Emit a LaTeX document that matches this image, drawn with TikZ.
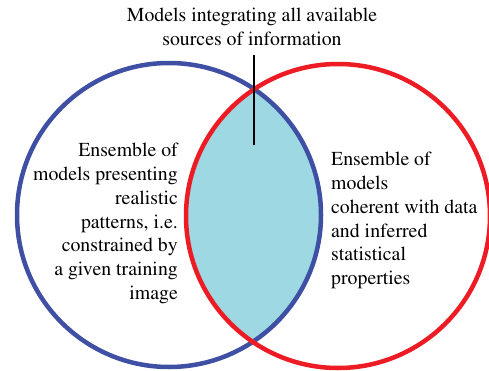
\documentclass[tikz,border=0pt]{standalone}
\usepackage[T1]{fontenc}
\usepackage{mathptmx}
\usepackage{xcolor}
\usetikzlibrary{positioning}
\definecolor{setblue}{RGB}{63,79,163}
\definecolor{setred}{RGB}{237,28,36}
\definecolor{lenscyan}{RGB}{158,216,226}

\begin{document}
\begin{tikzpicture}[x=1pt,y=-1pt,font=\fontsize{19.8}{23.8}\selectfont,
  ring/.style={line width=4.5pt},
  lbl/.style={inner sep=0pt}]
\useasboundingbox (0,0) rectangle (489,371);
\coordinate (cA) at (169,215);
\coordinate (cB) at (338,216);
\begin{scope}
  \clip (cA) circle (152);
  \fill[lenscyan] (cB) circle (152);
\end{scope}
\draw[ring,setblue] (cA) circle (152);
\draw[ring,setred] (cB) circle (152);
\node[lbl,align=center,anchor=north] (top) at (252,8) {Models integrating all available\\sources of information};
\coordinate (tickA) at (254,55);
\coordinate (tickB) at (254,145);
\draw[line width=1.8pt] (tickA) -- (tickB);
\node[lbl,align=right,anchor=north east] (left) at (178,143) {Ensemble of\\models presenting\\realistic\\patterns, i.e.\\constrained by\\a given training\\image};
\node[lbl,align=left,anchor=north west] (right) at (331,152) {Ensemble of\\models\\coherent with data\\and inferred\\statistical\\properties};
\end{tikzpicture}
\end{document}
